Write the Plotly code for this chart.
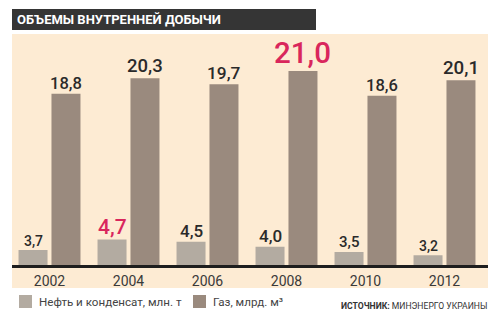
import plotly.graph_objects as go

years = ["2002", "2004", "2006", "2008", "2010", "2012"]
oil = [3.7, 4.7, 4.5, 4.0, 3.5, 3.2]
gas = [18.8, 20.3, 19.7, 21.0, 18.6, 20.1]
oil_name = "Нефть и конденсат, млн. т"
gas_name = "Газ, млрд. м³"
title = "ОБЪЕМЫ ВНУТРЕННЕЙ ДОБЫЧИ"
source_bold = "ИСТОЧНИК:"
source_text = "МИНЭНЕРГО УКРАИНЫ"

# styles
oil_sizes = [14, 21, 17, 17, 15, 14]
gas_sizes = [16.5, 18.5, 17.3, 29.5, 16.5, 18.7]
OIL_C = "#b3aba1"
GAS_C = "#9a8a7e"
CREAM = "#fdebd3"
RED = "#d9265c"
DARK = "#2a2a2a"
FONT = "Roboto, Liberation Sans, sans-serif"
W, H = 500, 322

def px(x):
    return x / W

def py(y):
    return 1 - y / H

xs = list(range(len(years)))
bw = 0.367
oil_off = -0.392
gas_off = 0.025

fig = go.Figure()
fig.add_trace(go.Bar(x=xs, y=oil, width=bw, offset=oil_off, marker=dict(color=OIL_C, line=dict(width=0)),
                     name=oil_name, showlegend=False, hoverinfo="skip"))
fig.add_trace(go.Bar(x=xs, y=gas, width=bw, offset=gas_off, marker=dict(color=GAS_C, line=dict(width=0)),
                     name=gas_name, showlegend=False, hoverinfo="skip"))

fmt = lambda v: f"{v:.1f}".replace(".", ",")
ann = []
for series, off, sizes in ((oil, oil_off, oil_sizes), (gas, gas_off, gas_sizes)):
    mx = max(series)
    for i, v in enumerate(series):
        ann.append(dict(x=i + off + bw / 2, y=v, xref="x", yref="y", text=fmt(v), showarrow=False,
                        yanchor="bottom", xanchor="center", yshift=-1,
                        font=dict(family=FONT, size=sizes[i], weight=500, color=RED if v == mx else DARK)))

# title
ann.append(dict(x=px(15), y=py(19.5), xref="paper", yref="paper", text=f"<b>{title}</b>", showarrow=False,
                xanchor="left", yanchor="middle", font=dict(family=FONT, size=13, color="white")))
# legend texts
ann.append(dict(x=px(37), y=py(302), xref="paper", yref="paper", text=oil_name, showarrow=False,
                xanchor="left", yanchor="middle", font=dict(family=FONT, size=11.6, color="#444")))
ann.append(dict(x=px(211), y=py(302), xref="paper", yref="paper", text=gas_name, showarrow=False,
                xanchor="left", yanchor="middle", font=dict(family=FONT, size=11.6, color="#444")))
ann.append(dict(x=px(489), y=py(306), xref="paper", yref="paper", text=f"<b>{source_bold}</b> {source_text}",
                showarrow=False, xanchor="right", yanchor="middle",
                font=dict(family=FONT, size=8.6, color="#333")))

shapes = [
    dict(type="rect", xref="paper", yref="paper", x0=px(12), x1=px(488), y0=py(288), y1=py(34),
         fillcolor=CREAM, line=dict(width=0), layer="below"),
    dict(type="rect", xref="paper", yref="paper", x0=px(12), x1=px(316), y0=py(30), y1=py(9),
         fillcolor="#353535", line=dict(width=0), layer="below"),
    dict(type="line", xref="paper", yref="paper", x0=px(12), x1=px(488), y0=py(266.5), y1=py(266.5),
         line=dict(color="#1e1e1e", width=3), layer="above"),
    dict(type="rect", xref="paper", yref="paper", x0=px(19), x1=px(32), y0=py(308), y1=py(295),
         fillcolor=OIL_C, line=dict(width=0)),
    dict(type="rect", xref="paper", yref="paper", x0=px(193), x1=px(206), y0=py(308), y1=py(295),
         fillcolor=GAS_C, line=dict(width=0)),
]

# x: center(i) = 49.5 + 79*i px
x0 = (12 - 49.5) / 79
x1 = (488 - 49.5) / 79
ybase = 2.15
scale = 10.35
ytop = ybase + (266 - 40) / scale

fig.update_layout(
    width=W, height=H, margin=dict(l=0, r=0, t=0, b=0),
    paper_bgcolor="white", plot_bgcolor="rgba(0,0,0,0)",
    barmode="overlay", showlegend=False,
    xaxis=dict(domain=[px(12), px(488)], range=[x0, x1], tickvals=xs, ticktext=years,
               showgrid=False, zeroline=False, showline=False, ticks="", ticklabelstandoff=5,
               tickfont=dict(family=FONT, size=14, color="#3a3a3a"), fixedrange=True),
    yaxis=dict(domain=[py(266), py(40)], range=[ybase, ytop], visible=False, showgrid=False, fixedrange=True),
    annotations=ann, shapes=shapes,
)
fig.write_html("out.html")
